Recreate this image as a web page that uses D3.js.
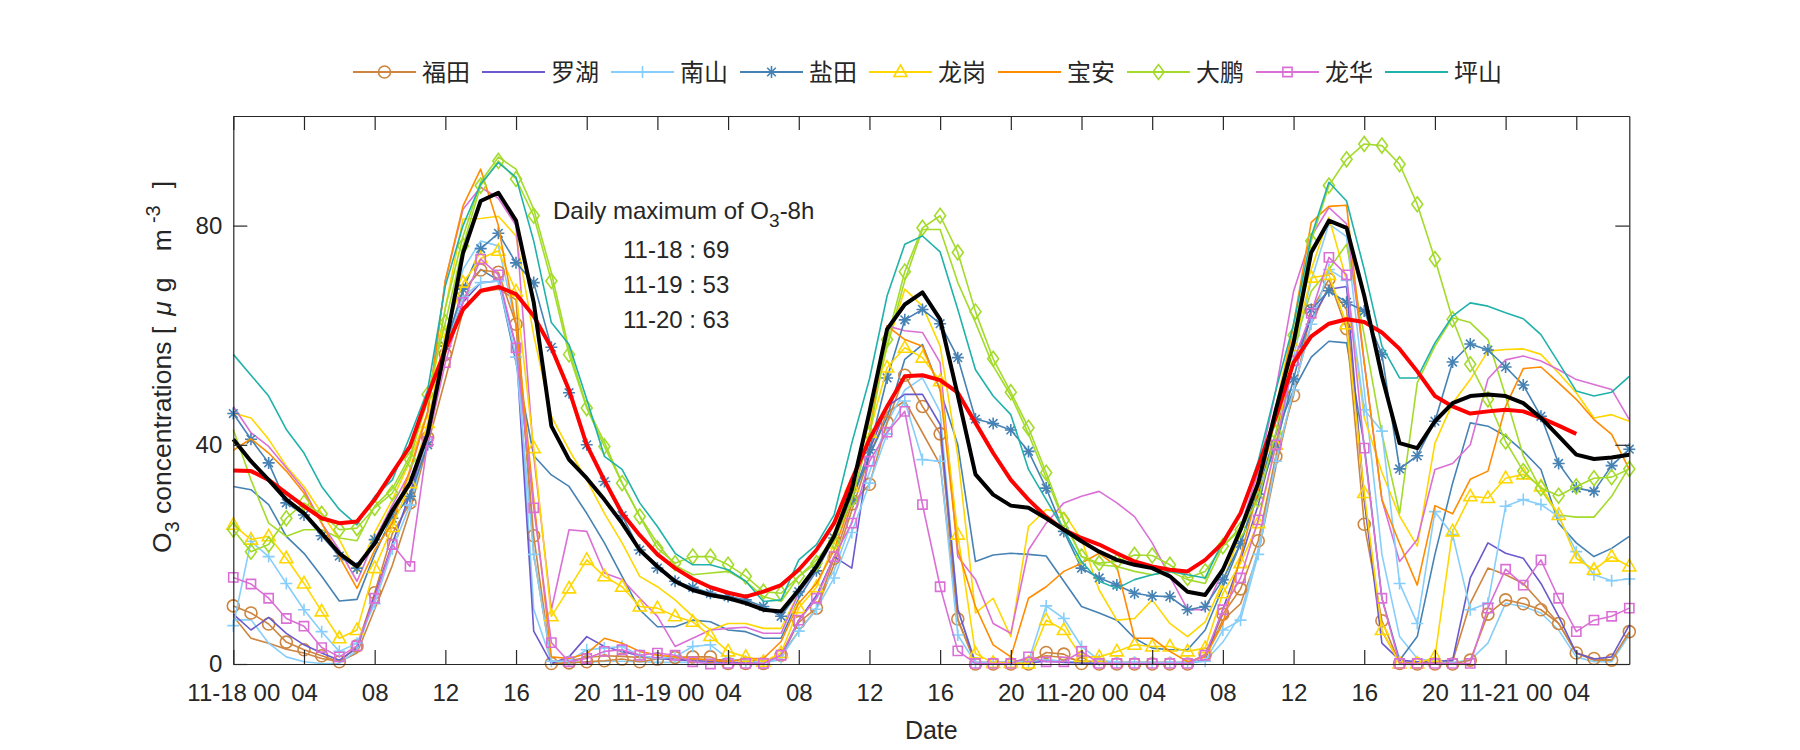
<!DOCTYPE html>
<html><head><meta charset="utf-8">
<script src="https://cdn.jsdelivr.net/npm/d3@7"></script>
<style>
body{margin:0;background:#fff;}
text{font-family:"Liberation Sans",Arial,sans-serif;fill:#262626;}
.cjk{font-family:"Noto Sans CJK SC","Liberation Sans",sans-serif;}
</style>
</head><body>
<svg id="chart" width="1800" height="750"></svg>
<script>
// ---------- DATA (hourly, 11-18 00 .. 11-21 07) ----------
const hours = d3.range(80);
const tickHours = [0,4,8,12,16,20,24,28,32,36,40,44,48,52,56,60,64,68,72,76];
const tickLabels = ["11-18 00","04","08","12","16","20","11-19 00","04","08","12","16","20","11-20 00","04","08","12","16","20","11-21 00","04"];
const yTicks = [0,40,80];

const futian = [10.6,9.3,7.3,4.0,2.6,1.5,0.4,3.3,13.0,23.8, 29.4,41.3,56.5,68.1,71.9,71.5,62.0,23.4,0.1,0.2, 0.4,0.6,0.9,0.4,0.9,1.2,1.3,1.3,0.1,0.1, 0.1,1.6,7.6,10.2,19.3,29.2,32.8,44.1,52.7,47.0, 42.0,8.2,0,0,0,0,2.1,1.8,0.1,0, 0,0,0,0,0,1.8,9.1,13.7,22.5,37.9, 49.0,64.5,70.2,61.2,25.5,7.9,0.1,0,0,0, 0.7,9.1,11.7,11.0,9.9,7.4,2.0,1.0,0.7,5.9];
const futian2 = [8.7,4.7,3.8,2.7,2.0,1.0,0.4,2.0,10,18, 28,40,52,64.4,67.9,68.4,66.5,20,0.5,0.6, 1.2,1.5,1.4,1.2,1.0,0.9,0.8,0.8,0.7,0.6, 0.6,1.5,6,10,18.1,28,38,45.9,48,42.2, 36.4,8,0.3,0.3,0.4,0.8,1.5,1.2,0.6,0.4, 0.3,0.3,0.3,0.3,0.3,1.5,8,11,20,36, 50,62,69,64.7,30,6,0.3,0.3,0.3,0.5, 11.1,17.5,16.3,14.7,11.1,7.4,2.0,0.7,0.7,5.6];
const luohu = [9.1,6.2,8.5,5.6,3.5,2.0,0.7,2.9,12.5,22, 31,42,57,66,69.6,69.9,58,6,0.1,1.3, 5.0,3.2,2.3,1.5,1.0,0.8,0.6,0.5,0.3,0.2, 0.2,1.5,8,12.5,19.6,17.5,39,47,49.2,49.2, 43.7,10,0.1,0.1,0.1,0.2,0.5,0.3,0.2,0.1, 0.1,0.1,0.1,0.1,0.1,0.8,10,19,29,42, 55,63,68.4,68.9,30,3.8,0.7,0.4,0.4,0.7, 15.7,22.1,20.2,19.3,14.7,8.7,2.0,0.9,1.3,7.1];
const nanshan = [7,22.4,19.6,14.7,9.9,5.9,2.3,3.8,11,21, 29,41,58,67,69.6,69.9,56,20,0.5,0.5, 2.6,2.9,3.2,1.6,1.0,1.3,3.2,3.5,1.0,0.5, 0.3,1.2,6,10,15.7,24,33,42,48,37.3, 37,5.3,0.2,0.2,0.3,0.5,10.6,8.3,3.2,0.7, 0.3,0.3,0.3,0.3,0.3,0.5,6.2,8.0,20,37, 50,62,72,70,46.4,42.5,14.7,7.4,27.8,23.6, 9.9,11.1,28.8,30.0,29.1,26.9,20.5,16.3,15.2,15.5];
const nanshan2 = [8,8.1,3.8,1.3,0.4,0.1,0.1,2.5,12,22, 31,43,60,72,77.2,76.3,62,10,0.5,0.3, 0.3,0.5,0.5,0.4,0.3,0.3,0.3,0.3,0.2,0.2, 0.2,0.8,8,12,17,26,35,44,50,52.2, 46,10,0.3,0.3,0.3,0.5,0.8,0.5,0.3,0.2, 0.2,0.2,0.2,0.2,0.2,0.5,4,9,21,38, 56,70,80.3,78,50,20,5,1,0.5,0.3, 0.7,3.8,11.1,10.5,9.3,6.2,1.3,0.4,0.4,5.3];
const yantian = [45.7,41.0,36.7,29.4,27.2,23.4,19.7,17.5,22.7,26.6, 30.6,40,58,68.4,75.8,78.6,73.2,69.6,57.8,49.5, 40.0,33.3,27.1,20.8,17.5,15.1,14.0,12.9,12.3,11.7, 10.5,8.7,13.2,17,23,30,39.1,52.2,62.8,64.7, 62.1,55.9,44.7,43.9,42.7,38.8,32.1,24.2,17.5,15.7, 14.4,12.9,12.4,12.3,9.9,10.5,15.4,22,31,40, 52,64.7,68.1,66,64.4,56.5,35.6,38.0,44.3,55.1, 58.4,57.3,54.2,50.9,45.2,36.6,32.1,31.5,36.2,39.2];
const yantian2 = [32.4,31.8,29.1,23.3,20.2,16.0,11.5,11.8,20,27, 33,42,58,68,72,70,55,38,34.5,32.4, 27.5,22.1,16.0,9.9,6.8,6.8,8.0,7.7,6.2,5.9, 4.7,4.7,12,17,23,30,38,45,55.6,58.3, 50,40,18.7,19.9,20.2,20.0,19.7,15.1,10.5,9.3, 8.0,4.7,2.9,2.6,2.6,6.2,14,22,32,42, 50,56,58.9,58.6,40,12,0.7,5,20,33, 44,43.4,41.6,38.8,35.5,25.7,22.1,19.6,21.1,23.3];
const longgang = [25.4,22.7,23.3,19.3,14.7,9.6,4.7,6.2,17.5,25, 33,44,60.5,69.6,74,75.4,68,39.4,8.7,13.8, 19.0,16.0,14.1,10.5,10.2,8.7,7.7,5.1,2.3,1.3, 0.4,2.0,10.2,14,22,32.4,42.2,54.1,57.7,55.9, 51.6,23.6,1.9,0.2,0.2,0.1,8.0,6.2,1.3,1.3, 2.3,3.5,3.2,3.2,2.3,2.9,12.9,18.4,25.7,40, 58.0,70.5,71,62.0,31.2,6.2,0.1,0.1,1.3,24.2, 30.6,30.3,33.9,34.6,32.4,27.2,19.3,17.2,19.6,17.8];
const longgang2 = [45.8,44.9,41,36.1,32.4,27.5,22.7,16.6,24,30, 37,46,65,81.2,81.3,81.7,78.1,60,45.2,39.1, 33.6,27.5,22.1,16.0,14.1,11.7,8.7,6.2,7.4,7.4, 6.5,6.5,13,18,24,33,44,58,68.4,65.3, 58.0,38,9.3,12,5,25.1,28.2,27.5,22.7,13.5, 8.0,8.3,11.7,7.4,5.0,7.7,15,24,34,47, 62,72,81.5,70,45,35,27,21.5,40.3,47.6, 51.9,57.1,57.4,57.5,56.5,53.1,49.5,44.9,45.5,44.3];
const baoan = [39,41.1,38.5,35.2,31.2,25.7,19.6,13.8,20.8,25.7, 35.5,46,70,83.6,90.3,80,62,30,1.3,1.0, 1.9,4.7,3.8,2.3,1.6,1.3,1.0,0.7,0.4,1.0, 1.0,4.1,11.1,14.7,20.8,30,42,61.7,59.2,58.0, 50,20.8,10.5,3.5,1.3,12.0,14.1,16.9,18.4,20.2, 17.8,4.7,4.7,2.3,0.4,1.3,7.4,19.6,31.8,45, 62,80.6,83.5,83.7,55,30,22,14.4,28.9,27.4, 33.7,35.2,47,53.9,54.2,51.3,48.3,44.6,41.9,35.5];
const dapeng = [24.5,20.5,21.8,26.6,29.4,27.4,24.5,24.8,28.5,31.2, 37.3,49.2,62.3,76.3,87.3,91.8,88.5,81.8,69.9,56.5, 46.7,39.7,33.0,26.9,21.1,18.4,19.6,19.6,18.1,16.0, 13.2,12.9,16.0,18.4,22.4,30,42,59.2,71.6,79.6, 81.8,75.1,64.3,55.7,49.6,43.1,34.9,26.3,19.6,18.4, 18.7,19.9,19.8,18.1,15.7,16.9,21.5,24.5,30,42.2, 60,77.2,87.3,92.1,94.9,94.6,91.2,83.9,73.9,62.9, 54.7,48.3,40.6,35.2,32.1,30.7,32.4,33.9,34.1,35.6];
const dapeng2 = [42.8,33.6,25.7,23.3,24.5,24.5,23.0,22.5,28.8,32, 38,48,65,78,88,92.5,90.3,83,71.4,57.4, 47,40.5,33,27,22,18,16.3,16.6,16.9,15.1, 12.3,11.4,16,19,23,32,45,58,70,79.3, 79.3,69.6,62.3,54.4,49,42,34,26,19.6,18.1, 17.8,16.9,16.3,16.9,15.4,14.7,21.5,25,32,45, 58,68,72,76.6,60,42,27.5,51.3,58.0,63.2, 62.3,59.2,48.9,38,31.8,27.2,26.8,26.8,30.6,36];
const longhua = [15.8,14.6,12.0,8.3,6.9,3.0,1.3,3.3,12,21.8, 17.8,40.6,55.0,66,73.9,71,57.7,28.5,3.9,0.4, 1.0,2.3,2.6,1.6,2.0,1.6,0.4,0,0.1,0.1, 0.1,1.6,8.0,12.0,19.6,25.7,37,42.3,46.1,29.1, 14.1,2.4,0.1,0.1,0.1,1.3,0.4,0.4,2.3,0.1, 0.1,0.1,0.1,0.1,0.1,1.6,9.9,15.7,26.3,40, 55.3,64,74.2,71.0,39.4,12.0,0.1,0.1,0.1,0.1, 0.1,10.2,17.3,14.4,19.0,12.0,5.9,8.0,8.7,10.2];
const longhua2 = [47,42.2,39.7,35.8,31.8,25.7,20.8,15.1,22.7,29, 35,46,70,83,87,85,80,38,9.9,24.5, 24.2,16.6,15.4,12,8.7,3.2,4.7,6.2,6.5,6.7, 5.6,5.6,13,17,23,32,45,61.7,60.8,60.5, 55,19.6,15.4,7.4,5.6,20.8,25.7,29.4,30.6,31.5, 29.4,26.9,22.1,16.0,9.9,9.9,17,25,35,50, 68,78,83.3,80.3,55,30,18.7,22.7,35.5,36.6, 40,52,55.5,56.2,55.3,53.7,51.9,51.0,50.1,44.6];
const pingshan = [56.5,52.7,48.9,42.8,38.5,32.4,28.2,25.4,30.6,33.6, 41.6,50,69,80,87.6,91.5,88.8,77.2,62.3,58.3, 48.3,37.9,35.5,29.4,25.1,20.2,18.1,18.1,17.2,15.1, 11.4,11.7,19.0,21.8,27.2,40.3,52,67.2,76.6,78.1, 75.2,64.7,53.7,48.9,45.5,35.5,30,24.5,18.7,15.1, 13.8,15.4,16.3,16.9,16.3,15.7,22.4,27.5,37,50, 62,78,87.9,84.5,72,58,52.2,52.2,58.6,63.5, 65.9,65.3,64.1,63.0,60.1,55.0,49.8,48.9,49.6,52.5];
const cityMean = [41.0,37,33.6,30,27.5,23.9,20.2,17.8,22,28, 33,42,58,75,84.5,86.0,80.9,66,43.4,37.3, 33.9,30,25.7,20.8,17.8,15.1,13.5,12.6,12.0,11.1, 9.9,9.6,13.5,17.8,23.3,31.8,46,61.1,65.6,67.8, 62.9,49,34.6,30.9,28.9,28.5,26.6,24.5,22.4,20.5, 19.0,18.1,17.5,16.0,13.2,12.6,17.2,24.5,33.0,46.4, 58.6,75.1,80.9,79.6,67.2,52.5,40.3,39.4,44.3,47.6, 48.9,49.2,48.9,47.6,44.9,41.6,38.2,37.4,37.7,38.2];
const o3_8h = [35.3,35.2,33.6,31.2,28.8,26.6,25.7,26.0,30,34.9, 39.7,48.9,57.4,64.7,68.1,68.8,67.5,63.5,57.7,50, 40,33.5,27.5,23.5,20,17.5,15.5,14,13,12.3, 13.2,14.4,17.2,20.8,25.7,33.6,41,47,52.5,52.7, 51.8,49.5,44,38.5,33.6,30,26.9,24.5,23.0,21.8, 20.2,18.7,17.8,17.2,16.9,19.0,22.1,27.5,36.1,45, 55,59.8,62.1,62.9,62.4,60.5,57.5,53.4,48.9,47.0, 45.7,46.1,46.4,46.1,44.9,43.5,42.0];

const legendNames = ["福田","罗湖","南山","盐田","龙岗","宝安","大鹏","龙华","坪山"];
const dailyMaxLabels = ["11-18 : 69","11-19 : 53","11-20 : 63"];

// ---------- STYLE ----------
const C = {futian:"#CD853F", luohu:"#6A5ACD", nanshan:"#87CEFA", yantian:"#4682B4", longgang:"#FFD700",
  baoan:"#FF8C00", dapeng:"#A3DB2B", longhua:"#DA70D6", pingshan:"#20B2AA"};
const legendStyle = [
  {c:C.futian, m:"circle"},{c:C.luohu, m:null},{c:C.nanshan, m:"plus"},{c:C.yantian, m:"star"},
  {c:C.longgang, m:"tri"},{c:C.baoan, m:null},{c:C.dapeng, m:"diamond"},{c:C.longhua, m:"square"},{c:C.pingshan, m:null}];

const lines = [
  {d:futian2, c:C.futian, m:null},{d:nanshan2, c:C.nanshan, m:null},{d:yantian2, c:C.yantian, m:null},
  {d:longgang2, c:C.longgang, m:null},{d:dapeng2, c:C.dapeng, m:null},{d:longhua2, c:C.longhua, m:null},
  {d:futian, c:C.futian, m:"circle"},{d:luohu, c:C.luohu, m:null},{d:nanshan, c:C.nanshan, m:"plus"},
  {d:yantian, c:C.yantian, m:"star"},{d:longgang, c:C.longgang, m:"tri"},{d:baoan, c:C.baoan, m:null},
  {d:dapeng, c:C.dapeng, m:"diamond"},{d:longhua, c:C.longhua, m:"square"},{d:pingshan, c:C.pingshan, m:null}
];

const svg = d3.select("#chart");
const L = 233.3, R = 1629.3, T = 116, B = 664;
const x = d3.scaleLinear().domain([0,79]).range([L,R]);
const y = d3.scaleLinear().domain([0,100]).range([B,T]);
const axisColor = "#262626";

const markerPath = {
  circle: "M-6,0A6,6 0 1,0 6,0A6,6 0 1,0 -6,0Z",
  plus: "M-6,0H6M0,-6V6",
  star: "M-6,0H6M0,-6V6M-4.3,-4.3L4.3,4.3M-4.3,4.3L4.3,-4.3",
  tri: "M0,-7L6.5,4.5L-6.5,4.5Z",
  diamond: "M0,-7.5L5.5,0L0,7.5L-5.5,0Z",
  square: "M-4.6,-4.6H4.6V4.6H-4.6Z"
};

const plot = svg.append("g");
const lineGen = d3.line().x((d,i)=>x(hours[i])).y(d=>y(d));

lines.forEach(s=>{
  const g = plot.append("g");
  g.append("path").datum(s.d).attr("d", lineGen).attr("fill","none")
    .attr("stroke", s.c).attr("stroke-width",1.6).attr("stroke-linejoin","round");
  if (s.m) {
    g.selectAll("path.mk").data(s.d).join("path").attr("class","mk")
      .attr("d", markerPath[s.m]).attr("transform",(d,i)=>`translate(${x(hours[i])},${y(d)})`)
      .attr("fill","none").attr("stroke", s.c).attr("stroke-width",1.6);
  }
});
plot.append("path").datum(o3_8h).attr("d", lineGen).attr("fill","none")
  .attr("stroke","#FF0000").attr("stroke-width",4).attr("stroke-linejoin","round");
plot.append("path").datum(cityMean).attr("d", lineGen).attr("fill","none")
  .attr("stroke","#000000").attr("stroke-width",4).attr("stroke-linejoin","round");

// ---------- AXES ----------
function styleAxis(g){
  g.selectAll(".domain").attr("stroke",axisColor).attr("stroke-width",1.2);
  g.selectAll(".tick line").attr("stroke",axisColor).attr("stroke-width",1.2);
  g.selectAll("text").attr("fill",axisColor).style("font-size","24px").style("font-family","Liberation Sans, Arial, sans-serif");
}
const xb = svg.append("g").attr("transform",`translate(0,${B})`)
  .call(d3.axisBottom(x).tickValues(tickHours).tickFormat((d,i)=>tickLabels[i]).tickSizeInner(-14).tickSizeOuter(0).tickPadding(20));
styleAxis(xb);
const xt = svg.append("g").attr("transform",`translate(0,${T})`)
  .call(d3.axisTop(x).tickValues(tickHours).tickFormat("").tickSizeInner(-14).tickSizeOuter(0));
styleAxis(xt);
const yl = svg.append("g").attr("transform",`translate(${L},0)`)
  .call(d3.axisLeft(y).tickValues(yTicks).tickFormat(d3.format("d")).tickSizeInner(-14).tickSizeOuter(0).tickPadding(11));
styleAxis(yl);
const yr = svg.append("g").attr("transform",`translate(${R},0)`)
  .call(d3.axisRight(y).tickValues(yTicks).tickFormat("").tickSizeInner(-14).tickSizeOuter(0));
styleAxis(yr);

// axis titles
svg.append("text").attr("x",(L+R)/2).attr("y",739).attr("text-anchor","middle")
  .style("font-size","25px").text("Date");
const yt = svg.append("text").attr("transform",`translate(171,553) rotate(-90)`)
  .attr("text-anchor","start").style("font-size","26.5px");
yt.append("tspan").text("O");
yt.append("tspan").attr("dy",8).style("font-size","20px").text("3");
yt.append("tspan").attr("dy",-8).text(" concentrations [");
yt.append("tspan").attr("dx",11).style("font-style","italic").text("μ");
yt.append("tspan").attr("dx",9).text("g");
yt.append("tspan").attr("dx",19).text(" m");
yt.append("tspan").attr("dx",6).attr("dy",-11).style("font-size","20px").text("-3");
yt.append("tspan").attr("dx",17).attr("dy",11).text("]");

// annotation
const ann = svg.append("text").attr("x",553).attr("y",219).style("font-size","24px");
ann.append("tspan").text("Daily maximum of O");
ann.append("tspan").attr("dy",8).style("font-size","19px").text("3");
ann.append("tspan").attr("dy",-8).text("-8h");
dailyMaxLabels.forEach((t,i)=>{
  svg.append("text").attr("x",623).attr("y",258+i*35).style("font-size","24px").text(t);
});

// legend
const lg = svg.append("g");
legendNames.forEach((n,i)=>{
  const x0 = 353 + i*129, yc = 72;
  const st = legendStyle[i];
  lg.append("line").attr("x1",x0).attr("x2",x0+63).attr("y1",yc).attr("y2",yc)
    .attr("stroke",st.c).attr("stroke-width",1.8);
  if (st.m) lg.append("path").attr("d",markerPath[st.m]).attr("transform",`translate(${x0+31.5},${yc})`)
    .attr("fill","none").attr("stroke",st.c).attr("stroke-width",1.6);
  lg.append("text").attr("class","cjk").attr("x",x0+69).attr("y",yc+8.5).style("font-size","24px").text(n);
});
</script>
</body></html>
